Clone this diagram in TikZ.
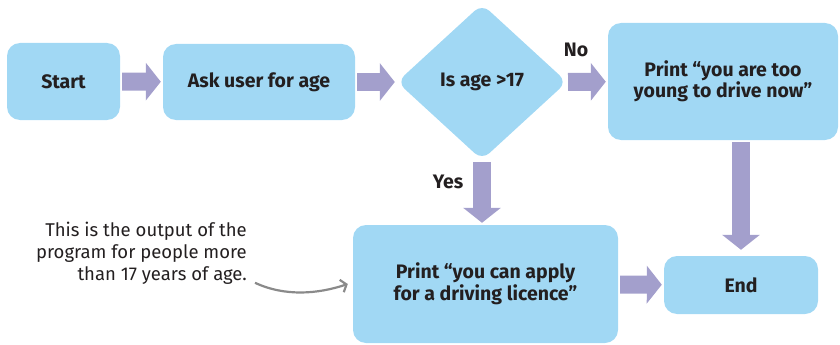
\documentclass[tikz,border=0pt]{standalone}
\usepackage{fontspec}
\setmainfont{Fira Sans}
\usetikzlibrary{arrows.meta, positioning, shapes.geometric}
\definecolor{fcblue}{HTML}{A1D8F4}
\definecolor{fcarrow}{HTML}{A39FCC}
\definecolor{fcdark}{HTML}{231F20}
\definecolor{fcgray}{HTML}{8A8A8A}
\tikzset{
  procbox/.style={rectangle, rounded corners=13pt, fill=fcblue, text=fcdark,
    font=\bfseries\fontsize{19.5}{21.5}\selectfont, align=center, inner sep=0pt},
  decision/.style={diamond, rounded corners=10pt, fill=fcblue, text=fcdark,
    font=\bfseries\fontsize{19.5}{21.5}\selectfont, align=center, inner sep=0pt,
    minimum width=170pt, minimum height=156pt},
  lbl/.style={text=fcdark, font=\bfseries\fontsize{19.5}{21.5}\selectfont, inner sep=0pt},
  note/.style={text=fcdark, font=\fontsize{18.5}{22}\selectfont, align=right, inner sep=0pt},
  fatarr/.style={-{Triangle[width=37pt, length=15pt]}, line width=18pt, fcarrow,
    shorten <=2pt, shorten >=2pt},
  curvearr/.style={-{Straight Barb[length=5pt, width=13pt]}, line width=2.2pt, fcgray},
}
\begin{document}
\begin{tikzpicture}[x=1pt, y=-1pt]
    \useasboundingbox (0,0) rectangle (840,345);
    % Top row
    \node[procbox, minimum width=113pt, minimum height=77pt] (start) at (63.5,81.5) {Start};
    \node[procbox, minimum width=192pt, minimum height=76pt] (ask) at (259,82) {Ask user for age};
    \node[decision] (dec) at (482,82) {Is age >17};
    \node[procbox, minimum width=230pt, minimum height=117pt] (young) at (723,81.5) {Print “you are too\\young to drive now”};
    % Bottom row
    \node[procbox, minimum width=265pt, minimum height=118pt] (apply) at (485.5,284) {Print “you can apply\\for a driving licence”};
    \node[procbox, minimum width=154pt, minimum height=58pt] (end) at (741,285) {End};

    \draw[fatarr] (start) -- (ask);
    \draw[fatarr] (ask) -- (dec);
    \draw[fatarr, shorten <=1pt] (dec) -- (young);
    \draw[fatarr] (dec.south) -- (dec.south |- apply.north);
    \draw[fatarr, shorten >=6pt] (young.south -| end.north) -- (end.north);
    \draw[fatarr] (apply) -- (end);

    % Branch labels
    \node[lbl] (nolbl) at (576,50) {No};
    \node[lbl] (yeslbl) at (448,182) {Yes};

    % Annotation
    \node[note, anchor=north east] (note) at (247,222) {This is the output of the\\program for people more\\than 17 years of age.};
    \draw[curvearr] ([xshift=8pt, yshift=2pt]note.south east) .. controls +(30,14) and +(-30,10) .. ([xshift=-5pt]apply.west);
\end{tikzpicture}
\end{document}
